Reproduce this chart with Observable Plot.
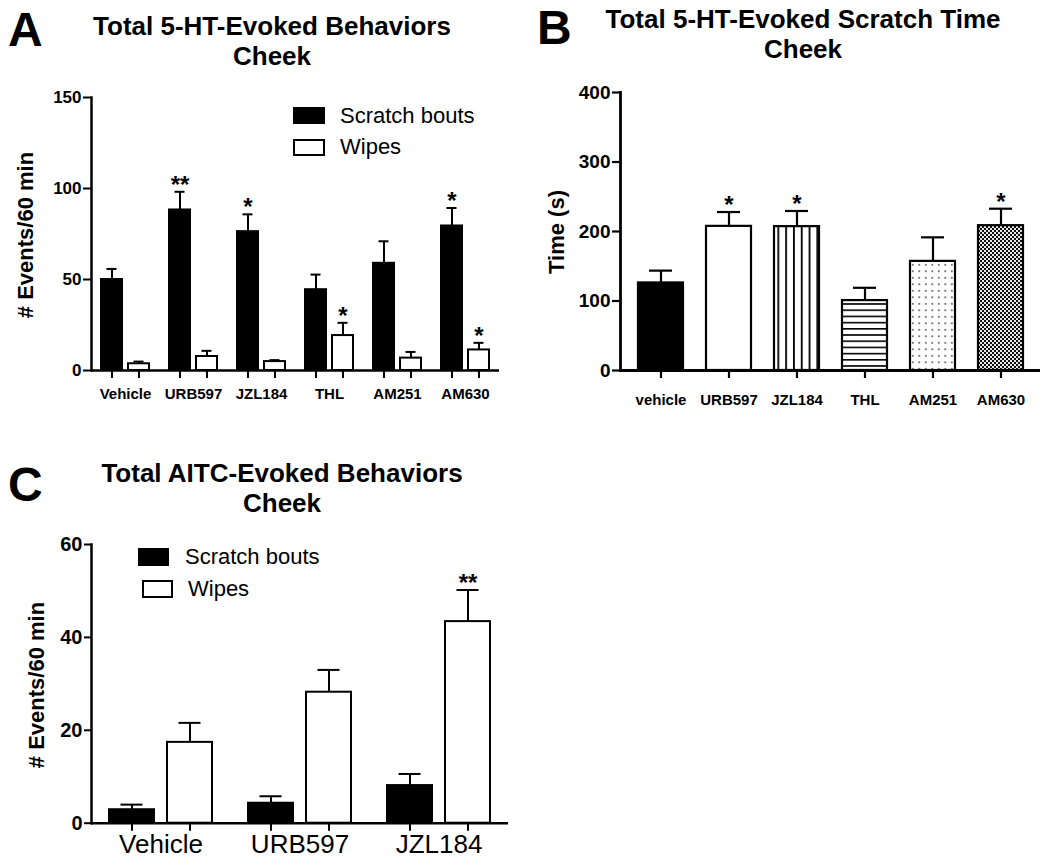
<!DOCTYPE html>
<html><head><meta charset="utf-8">
<script src="https://cdn.jsdelivr.net/npm/d3@7"></script>
<script src="https://cdn.jsdelivr.net/npm/@observablehq/plot@0.6"></script>
<style>
body{margin:0;background:#fff;}
#root{position:relative;width:1050px;height:868px;font-family:"Liberation Sans",Arial,sans-serif;color:#000;overflow:hidden;background:#fff;}
.abs{position:absolute;}
.title{font-weight:bold;font-size:26px;line-height:30px;text-align:center;white-space:nowrap;width:500px;}
.letter{font-weight:bold;font-size:48px;line-height:48px;}
.ylab{font-weight:bold;font-size:22px;line-height:22px;white-space:nowrap;transform:translate(-50%,-50%) rotate(-90deg);}
.legtxt{font-size:22px;line-height:22px;white-space:nowrap;}
.sw{box-sizing:border-box;border:2.5px solid #000;}
</style>
</head><body><div id="root"></div>
<script>
// ---------- data ----------
const seriesAC = ["Scratch bouts", "Wipes"];

const groupsA = ["Vehicle", "URB597", "JZL184", "THL", "AM251", "AM630"];
const scratchA = [50, 88.2, 76.3, 44.4, 58.9, 79.4];
const scratchErrA = [5.8, 10.0, 9.5, 8.3, 12.1, 9.9];
const wipesA = [3.7, 7.7, 4.9, 19.2, 6.8, 11.3];
const wipesErrA = [1.2, 3.1, 0.8, 7.0, 3.4, 3.9];
const sigScratchA = ["", "**", "*", "", "", "*"];
const sigWipesA = ["", "", "", "*", "", "*"];
const ticksA = [0, 50, 100, 150];

const groupsB = ["vehicle", "URB597", "JZL184", "THL", "AM251", "AM630"];
const timeB = [126, 207.4, 207, 100.6, 157, 208.4];
const timeErrB = [17.7, 20.6, 22.5, 18.4, 34.6, 24.4];
const sigB = ["", "*", "*", "", "", "*"];
const fillsB = ["black", "white", "url(#pVlines)", "url(#pHlines)", "url(#pDots)", "url(#pChecker)"];
const ticksB = [0, 100, 200, 300, 400];

const groupsC = ["Vehicle", "URB597", "JZL184"];
const scratchC = [2.9, 4.3, 8.1];
const scratchErrC = [1.1, 1.5, 2.5];
const wipesC = [17.4, 28.2, 43.4];
const wipesErrC = [4.2, 4.8, 6.8];
const sigScratchC = ["", "", ""];
const sigWipesC = ["", "", "**"];
const ticksC = [0, 20, 40, 60];

// ---------- helpers ----------
function pairRows(groups, s, se, w, we, ss, sw) {
  const rows = [];
  groups.forEach((g, i) => {
    rows.push({group: g, series: seriesAC[0], value: s[i], err: se[i], sig: ss[i]});
    rows.push({group: g, series: seriesAC[1], value: w[i], err: we[i], sig: sw[i]});
  });
  return rows;
}
const rowsA = pairRows(groupsA, scratchA, scratchErrA, wipesA, wipesErrA, sigScratchA, sigWipesA);
const rowsC = pairRows(groupsC, scratchC, scratchErrC, wipesC, wipesErrC, sigScratchC, sigWipesC);
const rowsB = groupsB.map((g, i) => ({group: g, value: timeB[i], err: timeErrB[i], sig: sigB[i]}));

const FONT = '"Liberation Sans", Arial, sans-serif';
const root = document.getElementById("root");

function place(el, left, top) {
  el.style.position = "absolute"; el.style.left = left + "px"; el.style.top = top + "px";
  root.appendChild(el);
  return el;
}
function div(cls, html, left, top) {
  const d = document.createElement("div"); d.className = cls; d.innerHTML = html;
  return place(d, left, top);
}

function groupedPlot(rows, groups, o) {
  const top = d => d.value + d.err;
  return Plot.plot({
    width: o.width, height: o.height,
    marginTop: o.mt, marginBottom: o.mb, marginLeft: o.ml, marginRight: o.mr,
    style: {fontFamily: FONT, background: "transparent", overflow: "visible", color: "black"},
    fx: {domain: groups, padding: 0, label: null},
    x: {domain: seriesAC, paddingInner: o.pi, paddingOuter: o.po, label: null},
    y: {domain: o.ydomain, label: null},
    color: {domain: seriesAC, range: ["black", "white"]},
    marks: [
      Plot.ruleX(rows, {fx: "group", x: "series", y1: "value", y2: top, stroke: "black", strokeWidth: 2}),
      Plot.tickY(rows, {fx: "group", x: "series", y: top, stroke: "black", strokeWidth: 2, insetLeft: o.cap, insetRight: o.cap}),
      Plot.barY(rows, {fx: "group", x: "series", y: "value", fill: "series", stroke: "black", strokeWidth: 2}),
      Plot.text(rows, {fx: "group", x: "series", y: top, text: "sig", lineAnchor: "bottom", dy: 1, fontSize: 24, fontWeight: "bold"}),
      Plot.ruleY([0], {stroke: "black", strokeWidth: 2.5}),
      Plot.frame({anchor: "left", facetAnchor: "left", stroke: "black", strokeWidth: 2.5}),
      Plot.axisY({ticks: o.ticks, tickSize: o.tsize, tickPadding: 2, stroke: "black", strokeWidth: 2, fontSize: o.yfs, fontWeight: "bold", label: null}),
      Plot.axisX({tickSize: 8, stroke: "black", strokeWidth: 2, tickFormat: () => "", label: null}),
      Plot.axisFx({anchor: "bottom", tickSize: 0, tickPadding: o.xpad, fontSize: o.xfs, fontWeight: o.xfw, label: null})
    ]
  });
}

// ---------- panel A ----------
const plotA = groupedPlot(rowsA, groupsA, {
  width: 520, height: 340, mt: 17, mb: 50, ml: 90, mr: 20,
  pi: 0.214, po: 0.327, cap: 5.5, ydomain: [0, 150], ticks: ticksA, tsize: 8,
  yfs: 17, xpad: 18, xfs: 15, xfw: "bold"
});
place(plotA, 0, 80);

// ---------- panel B ----------
const defsMark = () => {
  const s = d3.create("svg:defs");
  const v = s.append("pattern").attr("id", "pVlines").attr("patternUnits", "userSpaceOnUse").attr("width", 7.8).attr("height", 10);
  v.append("rect").attr("width", 7.8).attr("height", 10).attr("fill", "white");
  v.append("rect").attr("x", 0).attr("width", 1.8).attr("height", 10).attr("fill", "black");
  const h = s.append("pattern").attr("id", "pHlines").attr("patternUnits", "userSpaceOnUse").attr("width", 10).attr("height", 6.2);
  h.append("rect").attr("width", 10).attr("height", 6.2).attr("fill", "white");
  h.append("rect").attr("y", 0).attr("width", 10).attr("height", 1.6).attr("fill", "black");
  const p = s.append("pattern").attr("id", "pDots").attr("patternUnits", "userSpaceOnUse").attr("width", 6.5).attr("height", 6.5);
  p.append("rect").attr("width", 6.5).attr("height", 6.5).attr("fill", "white");
  p.append("rect").attr("x", 2).attr("y", 2).attr("width", 1.6).attr("height", 1.6).attr("fill", "#444");
  const c = s.append("pattern").attr("id", "pChecker").attr("patternUnits", "userSpaceOnUse").attr("width", 4).attr("height", 4);
  c.append("rect").attr("width", 4).attr("height", 4).attr("fill", "#e8e8e8");
  c.append("rect").attr("x", 0).attr("y", 0).attr("width", 2).attr("height", 2).attr("fill", "#111");
  c.append("rect").attr("x", 2).attr("y", 2).attr("width", 2).attr("height", 2).attr("fill", "#111");
  return s.node();
};
const topB = d => d.value + d.err;
const plotB = Plot.plot({
  width: 530, height: 340, marginTop: 12, marginBottom: 50, marginLeft: 100, marginRight: 10,
  style: {fontFamily: FONT, background: "transparent", overflow: "visible", color: "black"},
  x: {domain: groupsB, paddingInner: 0.343, paddingOuter: 0.237, label: null},
  y: {domain: [0, 400], label: null},
  color: {domain: groupsB, range: fillsB},
  marks: [
    defsMark,
    Plot.ruleX(rowsB, {x: "group", y1: "value", y2: topB, stroke: "black", strokeWidth: 2.2}),
    Plot.tickY(rowsB, {x: "group", y: topB, stroke: "black", strokeWidth: 2.2, insetLeft: 11, insetRight: 11}),
    Plot.barY(rowsB, {x: "group", y: "value", fill: "group", stroke: "black", strokeWidth: 2.2}),
    Plot.text(rowsB, {x: "group", y: topB, text: "sig", lineAnchor: "bottom", dy: 1, fontSize: 24, fontWeight: "bold"}),
    Plot.ruleY([0], {stroke: "black", strokeWidth: 2.8}),
    Plot.frame({anchor: "left", stroke: "black", strokeWidth: 2.8}),
    Plot.axisY({ticks: ticksB, tickSize: 8, tickPadding: 2, stroke: "black", strokeWidth: 2.2, fontSize: 19, fontWeight: "bold", label: null}),
    Plot.axisX({tickSize: 8, tickPadding: 16, stroke: "black", strokeWidth: 2.2, fontSize: 15, fontWeight: "bold", label: null})
  ]
});
place(plotB, 520, 80);

// ---------- panel C ----------
const plotC = groupedPlot(rowsC, groupsC, {
  width: 520, height: 348, mt: 24, mb: 45.3, ml: 90, mr: 12,
  pi: 0.22, po: 0.29, cap: 11.5, ydomain: [0, 60], ticks: ticksC, tsize: 7,
  yfs: 20, xpad: 11, xfs: 26, xfw: "normal"
});
place(plotC, 0, 520);

// ---------- titles, letters, axis labels, legends ----------
div("title", "Total 5-HT-Evoked Behaviors<br>Cheek", 272 - 250, 11);
div("title", "Total 5-HT-Evoked Scratch Time<br>Cheek", 803 - 250, 4);
div("title", "Total AITC-Evoked Behaviors<br>Cheek", 282 - 250, 458);
div("letter", "A", 8, 6);
div("letter", "B", 537, 4);
div("letter", "C", 8, 461);
div("ylab", "# Events/60 min", 26, 235);
div("ylab", "Time (s)", 557, 232);
div("ylab", "# Events/60 min", 37, 685);

function swatch(left, top, w, h, fill) {
  const d = document.createElement("div"); d.className = "sw";
  d.style.width = w + "px"; d.style.height = h + "px"; d.style.background = fill;
  return place(d, left, top);
}
swatch(293, 107, 32, 17, "black");
div("legtxt", seriesAC[0], 340, 104.5);
swatch(293, 139, 32, 17, "white");
div("legtxt", seriesAC[1], 340, 135.5);
swatch(138, 548, 31, 18, "black");
div("legtxt", seriesAC[0], 185, 545.5);
swatch(142, 580, 31, 18, "white");
div("legtxt", seriesAC[1], 188, 577.5);
</script>
</body></html>
